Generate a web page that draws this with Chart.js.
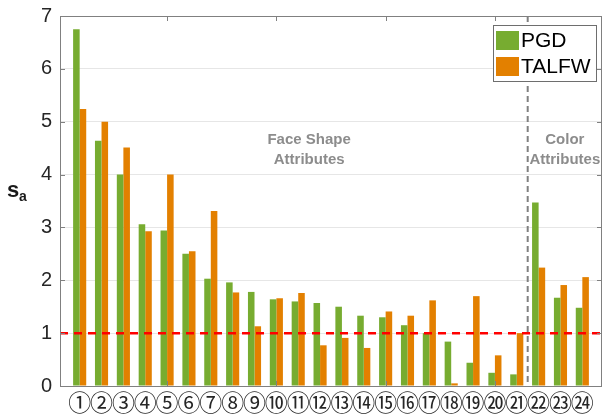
<!DOCTYPE html>
<html>
<head>
<meta charset="utf-8">
<script src="https://cdn.jsdelivr.net/npm/chart.js@4"></script>
<style>
  html, body { margin: 0; padding: 0; background: #fff; }
  #wrap { width: 603px; height: 415px; }
</style>
</head>
<body>
<div id="wrap"><canvas id="chart" width="603" height="415"></canvas></div>
<script>
// attribute index and circled labels
const categories = [1, 2, 3, 4, 5, 6, 7, 8, 9, 10, 11, 12, 13, 14, 15, 16, 17, 18, 19, 20, 21, 22, 23, 24];
const circled = ["①", "②", "③", "④", "⑤", "⑥", "⑦", "⑧", "⑨", "⑩", "⑪", "⑫",
                 "⑬", "⑭", "⑮", "⑯", "⑰", "⑱", "⑲", "⑳", "㉑", "㉒", "㉓", "㉔"];
const pgd   = [6.75, 4.64, 4.00, 3.06, 2.94, 2.50, 2.03, 1.96, 1.78, 1.64, 1.60, 1.57,
               1.50, 1.33, 1.30, 1.15, 1.00, 0.84, 0.44, 0.25, 0.22, 3.47, 1.67, 1.48];
const talfw = [5.24, 5.00, 4.51, 2.93, 4.00, 2.55, 3.31, 1.77, 1.13, 1.66, 1.76, 0.77,
               0.91, 0.72, 1.41, 1.33, 1.62, 0.05, 1.70, 0.58, 1.00, 2.24, 1.91, 2.06];
const yTicks = [0, 1, 2, 3, 4, 5, 6, 7];
const topTicks = [5, 10, 15, 20];
const threshold = 1;
const groupSplit = 21.5;

const GREEN = "#77AC30";
const ORANGE = "#E38000";
const AXIS = "#808080";

// box, ticks, reference lines, notes and legend
const decorations = {
    id: "decorations",
    afterDatasetsDraw(chart) {
        const { ctx, chartArea: a, scales: { x, y } } = chart;
        ctx.save();

        // red threshold line
        const yt = y.getPixelForValue(threshold);
        ctx.strokeStyle = "#FF0000";
        ctx.lineWidth = 2.5;
        ctx.setLineDash([8, 6]);
        ctx.beginPath();
        ctx.moveTo(a.left, yt);
        ctx.lineTo(a.right, yt);
        ctx.stroke();

        // group split line
        const xs = x.getPixelForValue(groupSplit);
        ctx.strokeStyle = "#808080";
        ctx.lineWidth = 2;
        ctx.setLineDash([6, 4]);
        ctx.beginPath();
        ctx.moveTo(xs, a.top);
        ctx.lineTo(xs, a.bottom);
        ctx.stroke();
        ctx.setLineDash([]);

        // box
        ctx.strokeStyle = AXIS;
        ctx.lineWidth = 1;
        ctx.strokeRect(a.left + 0.5, a.top + 0.5, a.right - a.left - 1, a.bottom - a.top);

        // ticks
        ctx.beginPath();
        yTicks.forEach(v => {
            const py = Math.round(y.getPixelForValue(v)) + 0.5;
            ctx.moveTo(a.left, py); ctx.lineTo(a.left + 5, py);
            ctx.moveTo(a.right, py); ctx.lineTo(a.right - 5, py);
        });
        topTicks.forEach(v => {
            const px = Math.round(x.getPixelForValue(v)) + 0.5;
            ctx.moveTo(px, a.top); ctx.lineTo(px, a.top + 5);
            ctx.moveTo(px, a.bottom); ctx.lineTo(px, a.bottom - 5);
        });
        ctx.stroke();

        // group notes
        ctx.fillStyle = "#8C8C8C";
        ctx.font = "bold 15px 'Liberation Sans', Arial, sans-serif";
        ctx.textAlign = "center";
        ctx.textBaseline = "middle";
        ctx.fillText("Face Shape", x.getPixelForValue(11.5), y.getPixelForValue(4.65));
        ctx.fillText("Attributes", x.getPixelForValue(11.5), y.getPixelForValue(4.27));
        ctx.fillText("Color", x.getPixelForValue(23.2), y.getPixelForValue(4.65));
        ctx.fillText("Attributes", x.getPixelForValue(23.2), y.getPixelForValue(4.27));

        // y title s_a
        ctx.fillStyle = "#1a1a1a";
        ctx.textAlign = "left";
        ctx.textBaseline = "alphabetic";
        ctx.font = "bold 22px 'Liberation Sans', Arial, sans-serif";
        ctx.fillText("s", 7, 197);
        ctx.font = "bold 14px 'Liberation Sans', Arial, sans-serif";
        ctx.fillText("a", 19, 201);

        // legend
        ctx.fillStyle = "#fff";
        ctx.fillRect(493, 25, 103, 56);
        ctx.strokeStyle = "#6e6e6e";
        ctx.strokeRect(493.5, 25.5, 103, 56);
        ctx.fillStyle = GREEN;
        ctx.fillRect(496, 31, 23, 19);
        ctx.fillStyle = ORANGE;
        ctx.fillRect(496, 57, 23, 19);
        ctx.fillStyle = "#000";
        ctx.font = "21px 'Liberation Sans', Arial, sans-serif";
        ctx.textBaseline = "middle";
        ctx.fillText("PGD", 521, 41);
        ctx.fillText("TALFW", 521, 67);

        ctx.restore();
    }
};

new Chart(document.getElementById("chart"), {
    type: "bar",
    data: {
        datasets: [{
            label: "PGD",
            data: categories.map((c, i) => ({ x: c, y: pgd[i] })),
            backgroundColor: GREEN,
            borderWidth: 0,
        }, {
            label: "TALFW",
            data: categories.map((c, i) => ({ x: c, y: talfw[i] })),
            backgroundColor: ORANGE,
            borderWidth: 0,
        }],
    },
    options: {
        responsive: false,
        animation: false,
        categoryPercentage: 0.6,
        barPercentage: 1.0,
        layout: { padding: { top: 15, right: 1, left: 0, bottom: 0 } },
        plugins: {
            legend: { display: false },
            tooltip: { enabled: false },
        },
        scales: {
            x: {
                type: "linear",
                min: 0.1,
                max: 24.9,
                offset: false,
                grid: { display: false, drawTicks: false },
                border: { display: false },
                afterBuildTicks: scale => {
                    scale.ticks = categories.map(v => ({ value: v }));
                },
                afterFit: scale => { scale.height = 29; },
                ticks: {
                    autoSkip: false,
                    maxRotation: 0,
                    padding: 2,
                    color: "#262626",
                    font: { family: "'Noto Sans CJK JP'", size: 23 },
                    callback: v => circled[categories.indexOf(v)] || "",
                },
            },
            y: {
                min: 0,
                max: 7,
                afterBuildTicks: scale => {
                    scale.ticks = yTicks.map(v => ({ value: v }));
                },
                afterFit: scale => { scale.width = 60; },
                grid: { color: "#E6E6E6", drawTicks: false },
                border: { display: false },
                ticks: {
                    padding: 8,
                    color: "#262626",
                    font: { family: "'Liberation Sans', Arial, sans-serif", size: 20, lineHeight: 0.8 },
                },
            },
        },
    },
    plugins: [decorations],
});
</script>
</body>
</html>
